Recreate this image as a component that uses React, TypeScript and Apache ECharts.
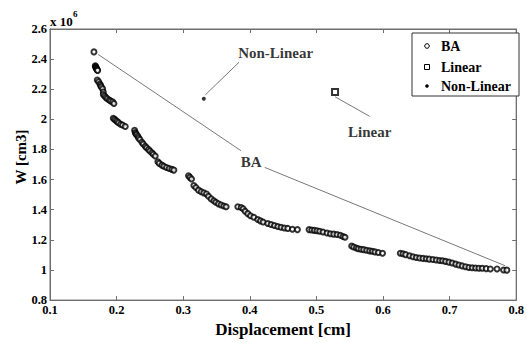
import React, { useEffect, useRef } from "react";
import * as echarts from "echarts";

// Displacement [cm] and W [cm3] (in units of 10^6) for the BA series
const baDisp: number[] = [
  0.166,
  0.168, 0.1685, 0.169, 0.1695, 0.17, 0.1705, 0.171, 0.1715,
  0.171, 0.173, 0.175, 0.176, 0.177, 0.179, 0.18, 0.18, 0.182, 0.184, 0.186, 0.189, 0.191, 0.194, 0.196,
  0.195, 0.197, 0.199, 0.201, 0.203, 0.206, 0.209, 0.213,
  0.227, 0.228, 0.229, 0.23, 0.232, 0.233, 0.235, 0.238, 0.24, 0.243, 0.245, 0.248, 0.25, 0.253, 0.255, 0.258,
  0.262, 0.264, 0.268, 0.271, 0.275, 0.279, 0.283, 0.286,
  0.308, 0.31, 0.3125, 0.316, 0.319, 0.323, 0.327, 0.331, 0.335, 0.338, 0.342, 0.346, 0.349, 0.353, 0.357, 0.361, 0.3645,
  0.382, 0.387, 0.39, 0.393, 0.397, 0.401, 0.406, 0.412, 0.416, 0.42, 0.427, 0.432, 0.437, 0.442, 0.447, 0.452, 0.457, 0.464, 0.4715,
  0.489, 0.493, 0.497, 0.501, 0.505, 0.51, 0.516, 0.521, 0.526, 0.531, 0.536, 0.54, 0.543,
  0.553, 0.556, 0.56, 0.563, 0.567, 0.571, 0.5755, 0.58, 0.584, 0.588, 0.593, 0.5993,
  0.626, 0.63, 0.634, 0.64, 0.645, 0.65, 0.655, 0.66, 0.665, 0.6695, 0.675, 0.68, 0.685, 0.6894, 0.694, 0.699,
  0.704, 0.7092, 0.714, 0.719, 0.724, 0.729, 0.734, 0.739, 0.744, 0.749, 0.755, 0.7612, 0.7712, 0.781, 0.786,
];
const baW: number[] = [
  2.448,
  2.355, 2.35, 2.345, 2.34, 2.336, 2.332, 2.328, 2.325,
  2.261, 2.25, 2.235, 2.225, 2.215, 2.203, 2.181, 2.165, 2.155, 2.145, 2.137, 2.128, 2.122, 2.116, 2.105,
  2.007, 2.0, 1.993, 1.985, 1.978, 1.968, 1.962, 1.953,
  1.927, 1.912, 1.905, 1.898, 1.888, 1.876, 1.866, 1.848, 1.836, 1.822, 1.812, 1.8, 1.79, 1.778, 1.768, 1.757,
  1.718, 1.708, 1.696, 1.689, 1.681, 1.674, 1.668, 1.663,
  1.626, 1.615, 1.604, 1.561, 1.548, 1.53, 1.52, 1.512, 1.505, 1.49, 1.472, 1.46, 1.45, 1.439, 1.432, 1.425, 1.42,
  1.42, 1.415, 1.407, 1.39, 1.374, 1.36, 1.35, 1.335, 1.326, 1.318, 1.309, 1.302, 1.295, 1.289, 1.284, 1.279, 1.276, 1.27, 1.268,
  1.268, 1.265, 1.263, 1.261, 1.257, 1.252, 1.245, 1.241, 1.238, 1.235, 1.23, 1.222, 1.217,
  1.159, 1.152, 1.146, 1.141, 1.138, 1.135, 1.131, 1.127, 1.124, 1.12, 1.116, 1.111,
  1.111, 1.108, 1.102, 1.094, 1.088, 1.083, 1.079, 1.077, 1.075, 1.072, 1.069, 1.066, 1.063, 1.061, 1.057, 1.052,
  1.046, 1.039, 1.033, 1.027, 1.022, 1.017, 1.015, 1.013, 1.012, 1.011, 1.009, 1.007, 1.007, 1.0, 0.999,
];

const linearDisp: number[] = [0.528];
const linearW: number[] = [2.181];
const nonLinearDisp: number[] = [0.331];
const nonLinearW: number[] = [2.137];

const xTicks = { min: 0.1, max: 0.8, step: 0.1 };
const yTicks = { min: 0.8, max: 2.6, step: 0.2 };

const legendNames: string[] = ["BA", "Linear", "Non-Linear"];

// Annotation texts [x, y, text] in data units
const annotationTexts: [number, number, string][] = [
  [0.4388, 2.442, "Non-Linear"],
  [0.402, 1.72, "BA"],
  [0.58, 1.917, "Linear"],
];
// Annotation arrows [[fromX, fromY], [toX, toY]] in data units
const annotationArrows: [[number, number], [number, number]][] = [
  [[0.3868, 1.792], [0.172, 2.432]],
  [[0.4224, 1.681], [0.7835, 1.028]],
  [[0.3838, 2.379], [0.3333, 2.163]],
  [[0.58, 2.02], [0.528, 2.15]],
];

const FONT = "Liberation Serif";

export default function App() {
  const ref = useRef<HTMLDivElement>(null);
  useEffect(() => {
    if (!ref.current) return;
    const chart = echarts.init(ref.current, undefined, { renderer: "svg" });
    const axisColor = "#6e6e6e";
    const zip = (a: number[], b: number[]) => a.map((v, i) => [v, b[i]]);
    const legendText = (name: string, y: number) => ({
      type: "text",
      x: 441,
      y,
      z: 101,
      style: {
        text: name,
        fontFamily: FONT,
        fontWeight: "bold",
        fontSize: 14,
        fill: "#000",
        verticalAlign: "middle",
        align: "left",
      },
    });
    const option: any = {
      animation: false,
      backgroundColor: "#fff",
      grid: { left: 50, right: 6, top: 29, bottom: 38, show: true, borderColor: axisColor, borderWidth: 1 },
      xAxis: [
        {
          type: "value",
          min: xTicks.min,
          max: xTicks.max,
          interval: xTicks.step,
          name: "Displacement [cm]",
          nameLocation: "middle",
          nameGap: 20,
          nameTextStyle: { fontFamily: FONT, fontWeight: "bold", fontSize: 17, color: "#000" },
          axisLine: { show: true, lineStyle: { color: axisColor } },
          axisTick: { show: true, inside: true, length: 4, lineStyle: { color: axisColor } },
          axisLabel: { fontFamily: FONT, fontWeight: "bold", fontSize: 12.5, color: "#000", margin: 3 },
          splitLine: { show: false },
        },
        {
          type: "value",
          position: "top",
          min: xTicks.min,
          max: xTicks.max,
          interval: xTicks.step,
          axisLine: { show: true, lineStyle: { color: axisColor } },
          axisTick: { show: true, inside: true, length: 4, lineStyle: { color: axisColor } },
          axisLabel: { show: false },
          splitLine: { show: false },
        },
      ],
      yAxis: [
        {
          type: "value",
          min: yTicks.min,
          max: yTicks.max,
          interval: yTicks.step,
          axisLine: { show: true, lineStyle: { color: axisColor } },
          axisTick: { show: true, inside: true, length: 4, lineStyle: { color: axisColor } },
          axisLabel: { fontFamily: FONT, fontWeight: "bold", fontSize: 12.5, color: "#000", margin: 3 },
          splitLine: { show: false },
        },
        {
          type: "value",
          position: "right",
          min: yTicks.min,
          max: yTicks.max,
          interval: yTicks.step,
          axisLine: { show: true, lineStyle: { color: axisColor } },
          axisTick: { show: true, inside: true, length: 4, lineStyle: { color: axisColor } },
          axisLabel: { show: false },
          splitLine: { show: false },
        },
      ],
      graphic: [
        {
          type: "text",
          x: 21,
          y: 157,
          rotation: Math.PI / 2,
          style: {
            text: "W [cm3]",
            fontFamily: FONT,
            fontWeight: "bold",
            fontSize: 15,
            fill: "#000",
            align: "center",
            verticalAlign: "middle",
          },
        },
        {
          type: "text",
          x: 50,
          y: 21,
          style: {
            text: "x 10",
            fontFamily: FONT,
            fontWeight: "bold",
            fontSize: 13,
            fill: "#000",
            verticalAlign: "middle",
          },
        },
        {
          type: "text",
          x: 73,
          y: 14,
          style: {
            text: "6",
            fontFamily: FONT,
            fontWeight: "bold",
            fontSize: 9,
            fill: "#000",
            verticalAlign: "middle",
          },
        },
        {
          type: "rect",
          z: 100,
          shape: { x: 412, y: 33, width: 107, height: 63 },
          style: { fill: "#fff", stroke: "#333", lineWidth: 1 },
        },
        {
          type: "circle",
          z: 101,
          shape: { cx: 427, cy: 46, r: 2.3 },
          style: { fill: "#fff", stroke: "#000", lineWidth: 1 },
        },
        {
          type: "rect",
          z: 101,
          shape: { x: 424.5, y: 64.5, width: 5, height: 5 },
          style: { fill: "#fff", stroke: "#000", lineWidth: 1 },
        },
        {
          type: "circle",
          z: 101,
          shape: { cx: 427, cy: 86, r: 1.8 },
          style: { fill: "#000" },
        },
        legendText(legendNames[0], 46),
        legendText(legendNames[1], 67),
        legendText(legendNames[2], 86),
      ],
      series: [
        {
          name: legendNames[0],
          type: "scatter",
          data: zip(baDisp, baW),
          symbol: "emptyCircle",
          symbolSize: 5,
          itemStyle: { color: "#000", borderColor: "#000", borderWidth: 0.8 },
          z: 3,
        },
        {
          name: legendNames[1],
          type: "scatter",
          data: zip(linearDisp, linearW),
          symbol: "emptyRect",
          symbolSize: 6,
          itemStyle: { color: "#000", borderColor: "#000", borderWidth: 1 },
          z: 3,
        },
        {
          name: legendNames[2],
          type: "scatter",
          data: zip(nonLinearDisp, nonLinearW),
          symbol: "circle",
          symbolSize: 4,
          itemStyle: { color: "#000" },
          z: 3,
        },
        {
          name: "annotations",
          type: "scatter",
          data: annotationTexts.map((t) => ({ value: [t[0], t[1]], name: t[2] })),
          symbolSize: 0,
          silent: true,
          label: {
            show: true,
            position: "inside",
            formatter: (p: any) => p.name,
            fontFamily: FONT,
            fontWeight: "bold",
            fontSize: 15,
            color: "#000",
          },
          markLine: {
            silent: true,
            symbol: ["none", "arrow"],
            symbolSize: [0, 7],
            label: { show: false },
            lineStyle: { color: "#555", width: 0.8, type: "solid" },
            data: annotationArrows.map((a) => [{ coord: a[0] }, { coord: a[1] }]),
          },
          z: 4,
        },
      ],
    };
    chart.setOption(option);
    return () => chart.dispose();
  }, []);
  return (
    <div
      ref={ref}
      style={{ position: "absolute", left: 0, top: 0, width: 527, height: 343 }}
    />
  );
}
